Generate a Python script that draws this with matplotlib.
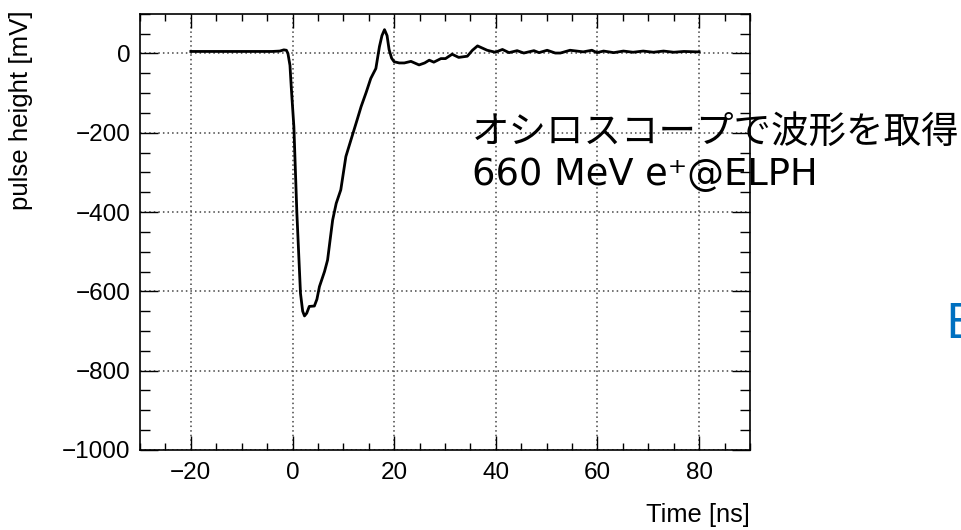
import numpy as np
import matplotlib
matplotlib.use('Agg')
from matplotlib import pyplot as plt
from matplotlib.ticker import MultipleLocator

# waveform: time [ns], pulse height [mV]
time_ns = [-20, -10, -4, -2.5, -1.7, -1.2, -0.9, -0.5, -0.25, 0.27, 0.86, 1.57, 2.0, 2.36, 2.8,
           3.3, 4.3, 4.8, 5.3, 6.3, 6.9, 7.4, 7.9, 8.6, 9.5, 10.5, 11.5, 12.7, 13.5, 14.5,
           15.4, 16.4, 17.1, 17.6, 18.1, 18.6, 19.0, 19.5, 20.0, 21.0, 22.0, 23.3, 24.9, 26.0,
           26.9, 27.8, 29.2, 30.1, 31.4, 32.7, 34.4, 35.4, 36.4, 38.3, 39.9, 41.3, 42.6, 44.2,
           45.5, 47.5, 48.5, 50.1, 51.7, 52.7, 54.6, 57.2, 58.9, 59.9, 61.2, 63.2, 65.1, 67,
           69, 71, 73, 75, 77, 79.5, 80]
pulse_mV = [5, 5, 5, 6, 9, 8, 0, -30, -84, -185, -403, -605, -650, -662, -655,
            -638, -637, -620, -588, -550, -521, -470, -420, -378, -344, -260, -218, -168, -134, -98,
            -63, -38, 17, 45, 60, 45, 10, -12, -21, -24, -24, -20, -29, -24,
            -17, -22, -13, -13, -2, -10, -7, 8, 19, 8, 3, 10, 2, 7,
            1, 7, 2, 8, 1, 1, 8, 4, 8, 2, 6, 2, 6, 3,
            6, 3, 6, 3, 5, 4, 4]

x_lim = (-30, 90)
y_lim = (-1000, 100)

note_jp = 'オシロスコープで波形を取得'
note_beam = '660 MeV e⁺@ELPH'

# ROOT-like Helvetica look
plt.rcParams['font.family'] = ['Liberation Sans', 'DejaVu Sans']

fig = plt.figure(figsize=(9.61, 5.30), dpi=100)
ax = fig.add_axes([0.1457, 0.151, 0.6347, 0.823])

ax.plot(time_ns, pulse_mV, color='black', lw=2.0, solid_joinstyle='round')
ax.set_xlim(*x_lim)
ax.set_ylim(*y_lim)

ax.xaxis.set_major_locator(MultipleLocator(20))
ax.xaxis.set_minor_locator(MultipleLocator(5))
ax.yaxis.set_major_locator(MultipleLocator(200))
ax.yaxis.set_minor_locator(MultipleLocator(50))

ax.grid(True, which='major', color='#444444', linestyle=(0, (1, 2)), linewidth=1.1)
ax.tick_params(axis='both', which='both', direction='in', top=True, right=True,
               labelsize=17.5, width=1)
ax.tick_params(axis='x', which='major', length=10, pad=9)
ax.tick_params(axis='x', which='minor', length=5)
ax.tick_params(axis='y', which='major', length=13, pad=7)
ax.tick_params(axis='y', which='minor', length=7)
for s in ax.spines.values():
    s.set_linewidth(1.2)

fig.text(0.780, 0.015, 'Time [ns]', ha='right', va='baseline', fontsize=18.4)
fig.text(0.022, 0.981, 'pulse height [mV]', rotation=90, ha='center', va='top', fontsize=18.6)

fig.text(0.4911, 0.730, note_jp, ha='left', va='baseline', fontsize=27,
         family=['Noto Sans CJK JP', 'DejaVu Sans'])
fig.text(0.4911, 0.651, note_beam, ha='left', va='baseline', fontsize=26.5,
         family=['DejaVu Sans'])
fig.text(0.984, 0.362, 'E', ha='left', va='baseline', fontsize=35, color='#0070C0',
         family=['Noto Sans', 'DejaVu Sans'])

fig.savefig('out.png', dpi=100)
